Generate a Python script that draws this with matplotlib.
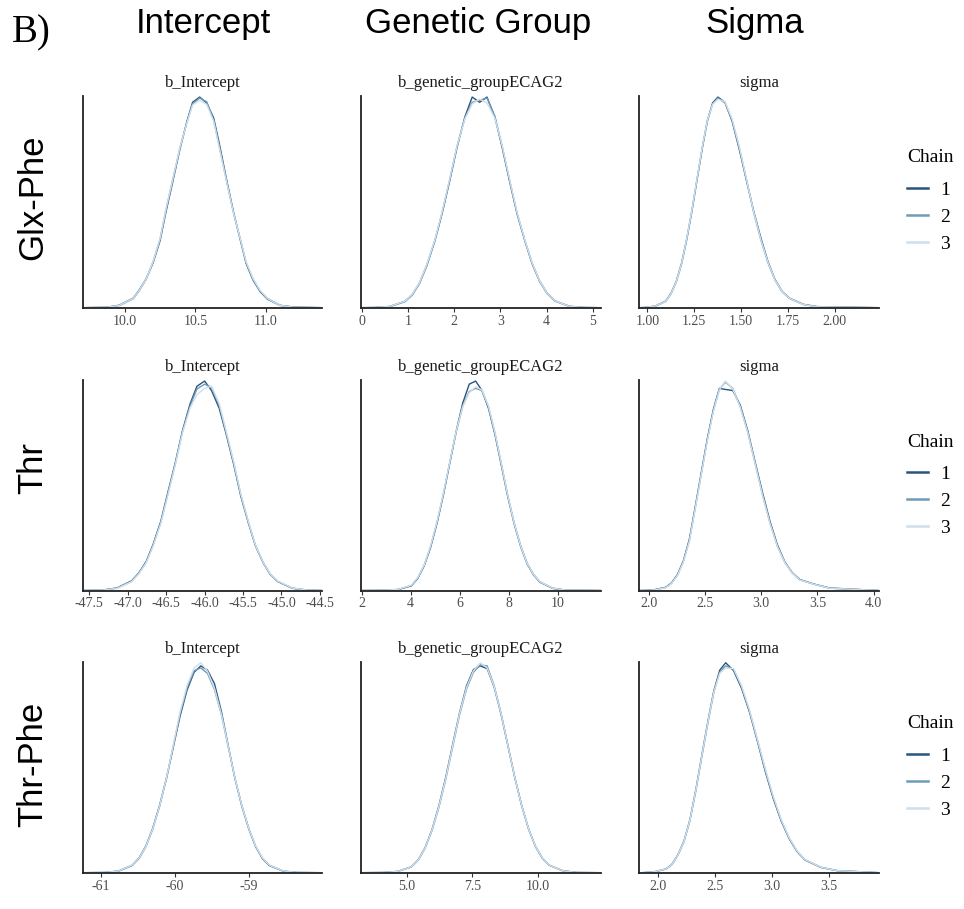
import matplotlib
matplotlib.use("Agg")
import matplotlib.pyplot as plt
from matplotlib.lines import Line2D

plt.rcParams['axes.unicode_minus'] = False

### labels ###
row_names = ["Glx-Phe", "Thr", "Thr-Phe"]
col_names = ["Intercept", "Genetic Group", "Sigma"]
param_names = ["b_Intercept", "b_genetic_groupECAG2", "sigma"]
chains = ["1", "2", "3"]
chain_colors = ["#2b5479", "#6f9ab8", "#cfdfeb"]

### densities (peak ~ 1) ###
# Glx-Phe
glx_int_x = [9.70, 9.87, 9.96, 10.06, 10.10, 10.15, 10.20, 10.25, 10.29, 10.34, 10.39, 10.44, 10.48, 10.53,
             10.58, 10.63, 10.67, 10.72, 10.77, 10.82, 10.86, 10.91, 10.96, 11.01, 11.10, 11.20, 11.40]
glx_int_c1 = [0, 0.002, 0.012, 0.046, 0.083, 0.137, 0.214, 0.320, 0.452, 0.600, 0.752, 0.885, 0.975, 1.000,
              0.972, 0.900, 0.778, 0.612, 0.455, 0.318, 0.210, 0.130, 0.076, 0.041, 0.011, 0.003, 0]
glx_int_c2 = [0, 0.002, 0.010, 0.043, 0.079, 0.134, 0.218, 0.328, 0.462, 0.610, 0.758, 0.880, 0.968, 0.995,
              0.978, 0.890, 0.765, 0.605, 0.452, 0.322, 0.214, 0.134, 0.079, 0.045, 0.012, 0.002, 0]
glx_int_c3 = [0, 0.002, 0.011, 0.045, 0.081, 0.136, 0.220, 0.330, 0.465, 0.612, 0.760, 0.878, 0.962, 0.985,
              0.965, 0.885, 0.758, 0.602, 0.450, 0.324, 0.218, 0.137, 0.081, 0.044, 0.011, 0.002, 0]

glx_gen_x = [-0.02, 0.28, 0.60, 0.93, 1.09, 1.25, 1.41, 1.58, 1.74, 1.90, 2.06, 2.23, 2.39, 2.55,
             2.71, 2.88, 3.04, 3.20, 3.36, 3.53, 3.69, 3.85, 4.01, 4.18, 4.50, 4.83, 5.17]
glx_gen_c1 = [0, 0.001, 0.006, 0.030, 0.062, 0.118, 0.205, 0.318, 0.450, 0.600, 0.760, 0.905, 1.000, 0.975,
              1.000, 0.905, 0.760, 0.600, 0.448, 0.318, 0.208, 0.125, 0.068, 0.032, 0.006, 0.001, 0]
glx_gen_c2 = [0, 0.001, 0.005, 0.028, 0.060, 0.115, 0.200, 0.315, 0.452, 0.605, 0.765, 0.900, 0.975, 0.985,
              0.995, 0.910, 0.765, 0.605, 0.450, 0.320, 0.210, 0.128, 0.070, 0.033, 0.007, 0.001, 0]
glx_gen_c3 = [0, 0.001, 0.006, 0.031, 0.064, 0.120, 0.208, 0.322, 0.458, 0.610, 0.768, 0.895, 0.968, 0.990,
              0.972, 0.900, 0.770, 0.610, 0.455, 0.322, 0.212, 0.127, 0.069, 0.033, 0.006, 0.001, 0]

glx_sig_x = [0.957, 0.987, 1.043, 1.098, 1.126, 1.154, 1.182, 1.209, 1.237, 1.265, 1.293, 1.320, 1.348, 1.376,
             1.414, 1.452, 1.490, 1.528, 1.566, 1.604, 1.642, 1.680, 1.718, 1.756, 1.832, 1.908, 2.234]
glx_sig_c1 = [0, 0.001, 0.008, 0.032, 0.068, 0.125, 0.210, 0.322, 0.458, 0.610, 0.760, 0.888, 0.972, 1.000,
              0.975, 0.885, 0.752, 0.605, 0.462, 0.335, 0.222, 0.135, 0.078, 0.046, 0.016, 0.005, 0]
glx_sig_c2 = [0, 0.001, 0.007, 0.030, 0.065, 0.122, 0.205, 0.318, 0.455, 0.608, 0.758, 0.885, 0.968, 0.995,
              0.972, 0.890, 0.760, 0.610, 0.455, 0.325, 0.215, 0.132, 0.076, 0.044, 0.015, 0.004, 0]
glx_sig_c3 = [0, 0.001, 0.008, 0.031, 0.066, 0.124, 0.208, 0.325, 0.462, 0.615, 0.765, 0.890, 0.965, 0.990,
              0.978, 0.895, 0.765, 0.612, 0.458, 0.326, 0.218, 0.133, 0.077, 0.045, 0.015, 0.004, 0]

# Thr
thr_int_x = [-47.586, -47.33, -47.14, -46.95, -46.86, -46.76, -46.67, -46.57, -46.48, -46.38, -46.29, -46.19,
             -46.10, -46.00, -45.91, -45.81, -45.72, -45.62, -45.53, -45.43, -45.34, -45.24, -45.15, -45.05,
             -44.86, -44.67, -44.47]
thr_int_c1 = [0, 0.002, 0.012, 0.046, 0.082, 0.138, 0.220, 0.330, 0.465, 0.612, 0.760, 0.890, 0.975, 1.000,
              0.955, 0.870, 0.748, 0.600, 0.452, 0.322, 0.215, 0.134, 0.079, 0.043, 0.011, 0.002, 0]
thr_int_c2 = [0, 0.002, 0.011, 0.044, 0.080, 0.135, 0.216, 0.325, 0.458, 0.608, 0.755, 0.880, 0.962, 0.985,
              0.970, 0.885, 0.755, 0.607, 0.458, 0.325, 0.216, 0.135, 0.080, 0.044, 0.011, 0.002, 0]
thr_int_c3 = [0, 0.002, 0.010, 0.042, 0.078, 0.132, 0.212, 0.320, 0.452, 0.602, 0.750, 0.870, 0.935, 0.965,
              0.975, 0.892, 0.762, 0.612, 0.462, 0.328, 0.218, 0.136, 0.081, 0.045, 0.012, 0.002, 0]

thr_gen_x = [1.97, 2.975, 3.50, 4.025, 4.29, 4.55, 4.81, 5.075, 5.34, 5.60, 5.86, 6.125, 6.39, 6.65,
             6.91, 7.175, 7.44, 7.70, 7.96, 8.225, 8.49, 8.75, 9.01, 9.275, 9.80, 10.325, 11.75]
thr_gen_c1 = [0, 0.001, 0.005, 0.022, 0.058, 0.118, 0.205, 0.322, 0.460, 0.612, 0.762, 0.895, 0.985, 1.000,
              0.955, 0.870, 0.745, 0.598, 0.450, 0.318, 0.210, 0.128, 0.075, 0.040, 0.010, 0.002, 0]
thr_gen_c2 = [0, 0.001, 0.005, 0.024, 0.060, 0.120, 0.208, 0.325, 0.462, 0.612, 0.758, 0.880, 0.950, 0.965,
              0.955, 0.878, 0.752, 0.605, 0.455, 0.322, 0.214, 0.132, 0.078, 0.042, 0.011, 0.002, 0]
thr_gen_c3 = [0, 0.001, 0.006, 0.025, 0.062, 0.122, 0.212, 0.330, 0.468, 0.618, 0.762, 0.878, 0.945, 0.972,
              0.958, 0.880, 0.755, 0.606, 0.456, 0.322, 0.213, 0.131, 0.077, 0.042, 0.011, 0.002, 0]

thr_sig_x = [1.914, 1.935, 2.041, 2.148, 2.201, 2.254, 2.307, 2.360, 2.414, 2.467, 2.520, 2.574, 2.627, 2.680,
             2.746, 2.813, 2.879, 2.945, 3.011, 3.078, 3.144, 3.210, 3.276, 3.343, 3.475, 3.608, 4.047]
thr_sig_c1 = [0, 0.000, 0.003, 0.015, 0.036, 0.076, 0.142, 0.245, 0.405, 0.565, 0.725, 0.865, 0.965, 0.960,
              0.955, 0.885, 0.765, 0.615, 0.468, 0.330, 0.218, 0.136, 0.085, 0.052, 0.030, 0.012, 0]
thr_sig_c2 = [0, 0.000, 0.002, 0.014, 0.034, 0.074, 0.140, 0.240, 0.400, 0.560, 0.720, 0.860, 0.960, 0.995,
              0.965, 0.878, 0.758, 0.608, 0.458, 0.322, 0.212, 0.134, 0.084, 0.051, 0.029, 0.011, 0]
thr_sig_c3 = [0, 0.000, 0.002, 0.013, 0.033, 0.072, 0.136, 0.235, 0.395, 0.555, 0.715, 0.855, 0.958, 1.000,
              0.962, 0.875, 0.756, 0.606, 0.455, 0.320, 0.210, 0.133, 0.083, 0.050, 0.029, 0.011, 0]

# Thr-Phe
thp_int_x = [-61.243, -60.945, -60.76, -60.575, -60.48, -60.39, -60.30, -60.205, -60.11, -60.02, -59.93, -59.835,
             -59.74, -59.65, -59.56, -59.465, -59.37, -59.28, -59.19, -59.095, -59.00, -58.91, -58.82, -58.725,
             -58.54, -58.355, -58.012]
thp_int_c1 = [0, 0.001, 0.008, 0.036, 0.072, 0.128, 0.210, 0.322, 0.455, 0.600, 0.745, 0.870, 0.955, 0.985,
              0.965, 0.900, 0.765, 0.605, 0.450, 0.315, 0.206, 0.124, 0.068, 0.034, 0.008, 0.001, 0]
thp_int_c2 = [0, 0.001, 0.007, 0.034, 0.068, 0.124, 0.205, 0.316, 0.452, 0.604, 0.755, 0.880, 0.962, 0.975,
              0.950, 0.872, 0.750, 0.600, 0.452, 0.318, 0.208, 0.126, 0.070, 0.036, 0.008, 0.001, 0]
thp_int_c3 = [0, 0.001, 0.008, 0.037, 0.071, 0.126, 0.207, 0.318, 0.456, 0.610, 0.765, 0.892, 0.975, 1.000,
              0.960, 0.878, 0.752, 0.602, 0.452, 0.318, 0.208, 0.127, 0.071, 0.036, 0.009, 0.001, 0]

thp_gen_x = [3.256, 4.125, 4.65, 5.175, 5.44, 5.70, 5.96, 6.225, 6.49, 6.75, 7.01, 7.275, 7.54, 7.80,
             8.06, 8.325, 8.59, 8.85, 9.11, 9.375, 9.64, 9.90, 10.16, 10.425, 10.95, 11.475, 12.378]
thp_gen_c1 = [0, 0.001, 0.006, 0.028, 0.062, 0.120, 0.205, 0.320, 0.458, 0.612, 0.762, 0.890, 0.968, 0.985,
              0.972, 0.885, 0.755, 0.605, 0.455, 0.320, 0.208, 0.125, 0.070, 0.036, 0.009, 0.001, 0]
thp_gen_c2 = [0, 0.001, 0.006, 0.027, 0.060, 0.118, 0.200, 0.312, 0.448, 0.600, 0.752, 0.875, 0.955, 0.990,
              0.985, 0.892, 0.760, 0.608, 0.456, 0.320, 0.208, 0.126, 0.070, 0.036, 0.009, 0.001, 0]
thp_gen_c3 = [0, 0.001, 0.006, 0.028, 0.061, 0.119, 0.203, 0.316, 0.452, 0.606, 0.758, 0.882, 0.962, 1.000,
              0.975, 0.888, 0.758, 0.606, 0.455, 0.320, 0.209, 0.126, 0.071, 0.037, 0.009, 0.001, 0]

thp_sig_x = [1.833, 1.859, 1.964, 2.069, 2.122, 2.174, 2.227, 2.279, 2.332, 2.384, 2.437, 2.489, 2.542, 2.594,
             2.664, 2.734, 2.804, 2.874, 2.944, 3.014, 3.084, 3.154, 3.224, 3.294, 3.434, 3.574, 3.943]
thp_sig_c1 = [0, 0.000, 0.004, 0.018, 0.041, 0.086, 0.152, 0.252, 0.398, 0.560, 0.720, 0.865, 0.965, 1.000,
              0.962, 0.878, 0.765, 0.625, 0.480, 0.352, 0.245, 0.162, 0.100, 0.060, 0.025, 0.010, 0]
thp_sig_c2 = [0, 0.000, 0.004, 0.017, 0.039, 0.084, 0.148, 0.248, 0.392, 0.552, 0.712, 0.858, 0.955, 0.985,
              0.968, 0.885, 0.770, 0.630, 0.488, 0.358, 0.248, 0.164, 0.101, 0.061, 0.026, 0.010, 0]
thp_sig_c3 = [0, 0.000, 0.004, 0.018, 0.040, 0.085, 0.150, 0.250, 0.395, 0.556, 0.716, 0.860, 0.950, 0.975,
              0.972, 0.890, 0.775, 0.634, 0.492, 0.362, 0.252, 0.166, 0.103, 0.062, 0.026, 0.010, 0]

### x axis ticks ###
ticks = [[[10.0, 10.5, 11.0], [0, 1, 2, 3, 4, 5], [1.00, 1.25, 1.50, 1.75, 2.00]],
         [[-47.5, -47.0, -46.5, -46.0, -45.5, -45.0, -44.5], [2, 4, 6, 8, 10], [2.0, 2.5, 3.0, 3.5, 4.0]],
         [[-61, -60, -59], [5.0, 7.5, 10.0], [2.0, 2.5, 3.0, 3.5]]]
tick_fmt = [["%.1f", "%d", "%.2f"],
            ["%.1f", "%d", "%.1f"],
            ["%d", "%.1f", "%.1f"]]

panels = [[(glx_int_x, [glx_int_c1, glx_int_c2, glx_int_c3]),
           (glx_gen_x, [glx_gen_c1, glx_gen_c2, glx_gen_c3]),
           (glx_sig_x, [glx_sig_c1, glx_sig_c2, glx_sig_c3])],
          [(thr_int_x, [thr_int_c1, thr_int_c2, thr_int_c3]),
           (thr_gen_x, [thr_gen_c1, thr_gen_c2, thr_gen_c3]),
           (thr_sig_x, [thr_sig_c1, thr_sig_c2, thr_sig_c3])],
          [(thp_int_x, [thp_int_c1, thp_int_c2, thp_int_c3]),
           (thp_gen_x, [thp_gen_c1, thp_gen_c2, thp_gen_c3]),
           (thp_sig_x, [thp_sig_c1, thp_sig_c2, thp_sig_c3])]]

### layout (pixels) ###
W, H = 964, 909
lefts = [82.7, 361, 639.3]
width = 239.5
tops = [96, 380, 661.7]
bottoms = [307.7, 590.5, 872.7]

serif = "Liberation Serif"
sans = "Liberation Sans"

fig = plt.figure(figsize=(W / 100, H / 100), dpi=100)

for r in range(3):
    for c in range(3):
        ax = fig.add_axes([lefts[c] / W, (H - bottoms[r]) / H, width / W, (bottoms[r] - tops[r]) / H])
        xs, dens = panels[r][c]
        for k in range(3):
            ax.plot(xs, dens[k], color=chain_colors[k], lw=1.0)
        ax.set_xlim(xs[0], xs[-1])
        ax.set_ylim(0, max(max(d) for d in dens) * 1.005)
        ax.set_xticks(ticks[r][c])
        ax.set_xticklabels([tick_fmt[r][c] % t for t in ticks[r][c]], family=serif, fontsize=10, color="#4d4d4d")
        ax.tick_params(axis='x', length=3, width=0.8, color="#333333", pad=2)
        ax.set_yticks([])
        for s in ["top", "right"]:
            ax.spines[s].set_visible(False)
        for s in ["left", "bottom"]:
            ax.spines[s].set_color("#222222")
            ax.spines[s].set_linewidth(1.3)
        fig.text((lefts[c] + width / 2) / W, 1 - (tops[r] - 13) / H, param_names[c],
                 family=serif, fontsize=12, color="#1a1a1a", ha="center", va="center")

# column headers, row labels
col_x = [203, 478, 755]
for c in range(3):
    fig.text(col_x[c] / W, 1 - 24 / H, col_names[c], family=sans, fontsize=25, ha="center", va="center")
row_y = [197, 468, 764]
for r in range(3):
    fig.text(33 / W, 1 - row_y[r] / H, row_names[r], family=sans, fontsize=25, rotation=90,
             ha="center", va="center")
fig.text(12 / W, 1 - 33 / H, "B)", family=serif, fontsize=28, ha="left", va="center")

# legends
leg_top = [149.5, 433.5, 715.5]
for r in range(3):
    handles = [Line2D([0], [0], color=chain_colors[k], lw=1.8) for k in range(3)]
    leg = fig.legend(handles, chains, title="Chain", loc="upper left",
                     bbox_to_anchor=(907 / W, 1 - leg_top[r] / H), frameon=False,
                     prop={"family": serif, "size": 14}, title_fontproperties={"family": serif, "size": 14},
                     borderpad=0, borderaxespad=0, handlelength=1.1, handletextpad=0.6, labelspacing=0.48,
                     alignment="left")
    leg._legend_box.sep = 10.7  # gap between title and first key

fig.savefig("out.png", dpi=100)
